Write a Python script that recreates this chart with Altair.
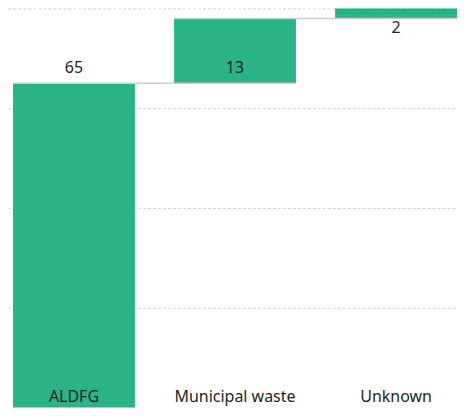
import altair as alt
import pandas as pd

categories = ["ALDFG", "Municipal waste", "Unknown"]
values = [65, 13, 2]
grid_values = [20, 40, 60, 80]

# waterfall table derived from the values
ends = []
total = 0
for v in values:
    total += v
    ends.append(total)
starts = [e - v for e, v in zip(ends, values)]
label_y = [s if s > 0 else e for s, e in zip(starts, ends)]

df = pd.DataFrame({
    "cat": categories,
    "value": values,
    "start": starts,
    "end": ends,
    "label_y": label_y,
    "idx": list(range(len(categories))),
})

conn = pd.DataFrame({
    "cat": categories[:-1],
    "next": categories[1:],
    "level": ends[:-1],
})

GREEN = "#2ab386"
TEXT = "#231f20"
FONT = "Noto Sans"

xs = alt.Scale(domain=categories, paddingInner=0.243, paddingOuter=0.0155, align=1)
ys = alt.Scale(domain=[0, 80], nice=False, zero=True)

bars = alt.Chart(df).mark_bar(color=GREEN).encode(
    x=alt.X("cat:N", scale=xs, axis=None, sort=categories),
    y=alt.Y("start:Q", scale=ys,
            axis=alt.Axis(values=grid_values, labels=False, ticks=False,
                          domain=False, grid=True, gridDash=[3, 2],
                          gridColor="#d4d4d4", gridWidth=1, title=None)),
    y2="end:Q",
)

rules = alt.Chart(conn).mark_rule(color="#cccccc", strokeWidth=1.5).encode(
    x=alt.X("cat:N", scale=xs, bandPosition=0, sort=categories),
    x2=alt.X2("next:N", bandPosition=1),
    y=alt.Y("level:Q", scale=ys),
)

above = alt.Chart(df).transform_filter("datum.idx < 2").mark_text(
    font=FONT, fontSize=16, color=TEXT, baseline="alphabetic", dy=-10
).encode(
    x=alt.X("cat:N", scale=xs, sort=categories),
    y=alt.Y("label_y:Q", scale=ys),
    text=alt.Text("value:Q"),
)

below = alt.Chart(df).transform_filter("datum.idx >= 2").mark_text(
    font=FONT, fontSize=16, color=TEXT, baseline="alphabetic", dy=15
).encode(
    x=alt.X("cat:N", scale=xs, sort=categories),
    y=alt.Y("label_y:Q", scale=ys),
    text=alt.Text("value:Q"),
)

cat_labels = alt.Chart(df).mark_text(
    font=FONT, fontSize=16, color=TEXT, baseline="alphabetic", dy=-6
).encode(
    x=alt.X("cat:N", scale=xs, sort=categories),
    y=alt.datum(0, scale=ys),
    text="cat:N",
)

chart = alt.layer(bars, rules, above, below, cat_labels).properties(
    width=450, height=400, padding=0
).configure_view(stroke=None)

chart.save("out.html", embed_options={"renderer": "svg", "actions": False})
